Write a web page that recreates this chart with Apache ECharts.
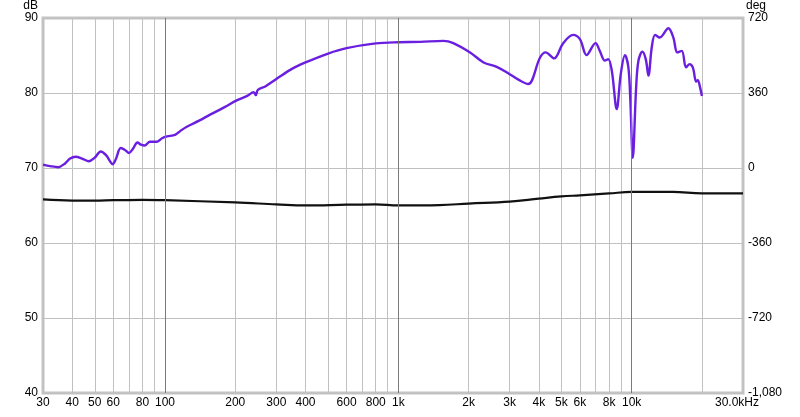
<!DOCTYPE html>
<html>
<head>
<meta charset="utf-8">
<script src="https://cdn.jsdelivr.net/npm/echarts@6/dist/echarts.min.js"></script>
<style>html,body{margin:0;padding:0;background:#fff}#c{width:800px;height:417px}</style>
</head>
<body>
<div id="c"></div>
<script>
// Upper (purple) response curve: frequency in Hz, level in dB
const upperFreq = [30,32.2,34.8,37.3,39.2,41.4,44.1,47.2,50.1,53,55.9,58.1,59.6,61.6,64.6,67.4,70.1,72.9,76.2,78.9,82,86.2,92.4,97.1,102,110.4,116,124,140,156,180,203,225,240,245,250,270,300,350,400,500,600,800,1000,1240,1560,1720,2030,2320,2640,3000,3300,3600,4050,4280,4650,5080,5610,6000,6410,7000,7300,7680,7930,8220,8630,8980,9360,9680,9870,10110,10450,10690,11110,11490,11800,12190,12600,13200,14360,15090,15690,16400,17100,17680,18280,18900,19200,19650,20000];
const upperDb   = [70.45,70.25,70.1,70.6,71.25,71.5,71.25,70.9,71.4,72.2,71.7,70.9,70.5,71.2,72.65,72.4,72.0,72.55,73.4,73.1,73.0,73.5,73.5,73.95,74.2,74.4,74.9,75.5,76.3,77.1,78.1,79.0,79.6,80.1,79.7,80.4,80.9,81.85,83.2,84.06,85.25,85.97,86.6,86.76,86.8,86.94,86.64,85.39,84.06,83.48,82.5,81.7,81.18,84.72,85.4,84.6,86.6,87.74,87.17,85.04,86.64,85.6,84.3,84.5,82.95,77.86,82.5,85.04,83.4,79.0,71.34,80.7,84.28,85.5,84.5,82.3,86.05,87.74,87.38,88.63,87.38,85.4,85.6,83.4,83.84,83.4,81.5,81.7,80.7,79.6];

// Lower (black) curve
const lowerFreq = [30,40,50,60,80,100,200,300,400,600,800,1000,1500,2000,3000,4000,5000,6000,8000,10000,15000,20000,30000];
const lowerDb   = [65.8,65.65,65.65,65.7,65.75,65.7,65.4,65.15,65.0,65.1,65.15,65.0,65.05,65.25,65.5,65.9,66.2,66.35,66.6,66.8,66.8,66.6,66.6];

// Axis ticks / labels
const gridFreqs = [30,40,50,60,70,80,90,100,200,300,400,500,600,700,800,900,1000,2000,3000,4000,5000,6000,7000,8000,9000,10000,20000,30000];
const decadeFreqs = [100,1000,10000];
const labelFreqs = [30,40,50,60,80,100,200,300,400,600,800,1000,2000,3000,4000,5000,6000,8000,10000,30000];
const labelTexts = ['30','40','50','60','80','100','200','300','400','600','800','1k','2k','3k','4k','5k','6k','8k','10k','30.0kHz'];
const dbTicks = [40,50,60,70,80,90];
const degTicks = [-1080,-720,-360,0,360,720];

const lg = v => Math.log10(v);
const FONT = 'Liberation Sans, Arial, sans-serif';

const chart = echarts.init(document.getElementById('c'), null, {renderer:'canvas'});
chart.setOption({
  animation:false,
  backgroundColor:'#fff',
  grid:{left:43,right:57,top:17,bottom:24,show:true,borderColor:'#c4c4c4',borderWidth:3,backgroundColor:'transparent'},
  xAxis:{
    type:'value', min:lg(30), max:lg(30000),
    axisLine:{show:false},
    axisTick:{show:false, customValues:gridFreqs.map(lg)},
    splitLine:{show:true, lineStyle:{color:'#c0c0c0',width:1}},
    axisLabel:{
      customValues:labelFreqs.map(lg), margin:4, color:'#000', fontFamily:FONT, fontSize:12,
      formatter:function(v){
        let best=0,bd=1e9;
        labelFreqs.forEach((f,i)=>{const d=Math.abs(lg(f)-v); if(d<bd){bd=d;best=i;}});
        const t=labelTexts[best];
        return best===labelTexts.length-1 ? '{last|'+t+'}' : t;
      },
      rich:{last:{padding:[0,12,0,0],fontFamily:FONT,fontSize:12,color:'#000'}}
    }
  },
  yAxis:[{
    type:'value', min:dbTicks[0], max:dbTicks[dbTicks.length-1], interval:10, position:'left',
    name:'dB', nameLocation:'end', nameGap:1,
    nameTextStyle:{align:'right',verticalAlign:'bottom',padding:[0,5,0,0],color:'#000',fontFamily:FONT,fontSize:12},
    axisLine:{show:false}, axisTick:{show:false},
    axisLabel:{margin:5,color:'#000',fontFamily:FONT,fontSize:12},
    splitLine:{show:true,lineStyle:{color:'#c0c0c0',width:1}}
  },{
    type:'value', min:degTicks[0], max:degTicks[degTicks.length-1], interval:360, position:'right',
    name:'deg', nameLocation:'end', nameGap:1,
    nameTextStyle:{align:'left',verticalAlign:'bottom',padding:[0,0,0,3],color:'#000',fontFamily:FONT,fontSize:12},
    axisLine:{show:false}, axisTick:{show:false},
    axisLabel:{margin:5,color:'#000',fontFamily:FONT,fontSize:12},
    splitLine:{show:false}
  }],
  series:[{
    type:'line', yAxisIndex:0, symbol:'none', smooth:0.4,
    data:lowerFreq.map((f,i)=>[lg(f),lowerDb[i]]),
    lineStyle:{color:'#111',width:2.2}, silent:true,
    markLine:{silent:true,symbol:'none',label:{show:false},animation:false,
      lineStyle:{color:'#7a7a7a',width:1,type:'solid'},
      data:decadeFreqs.map(f=>({xAxis:lg(f)}))}
  },{
    type:'line', yAxisIndex:0, symbol:'none', smooth:0.35,
    data:upperFreq.map((f,i)=>[lg(f),upperDb[i]]),
    lineStyle:{color:'#6a1fe0',width:2.4}, silent:true
  }]
});
</script>
</body>
</html>
